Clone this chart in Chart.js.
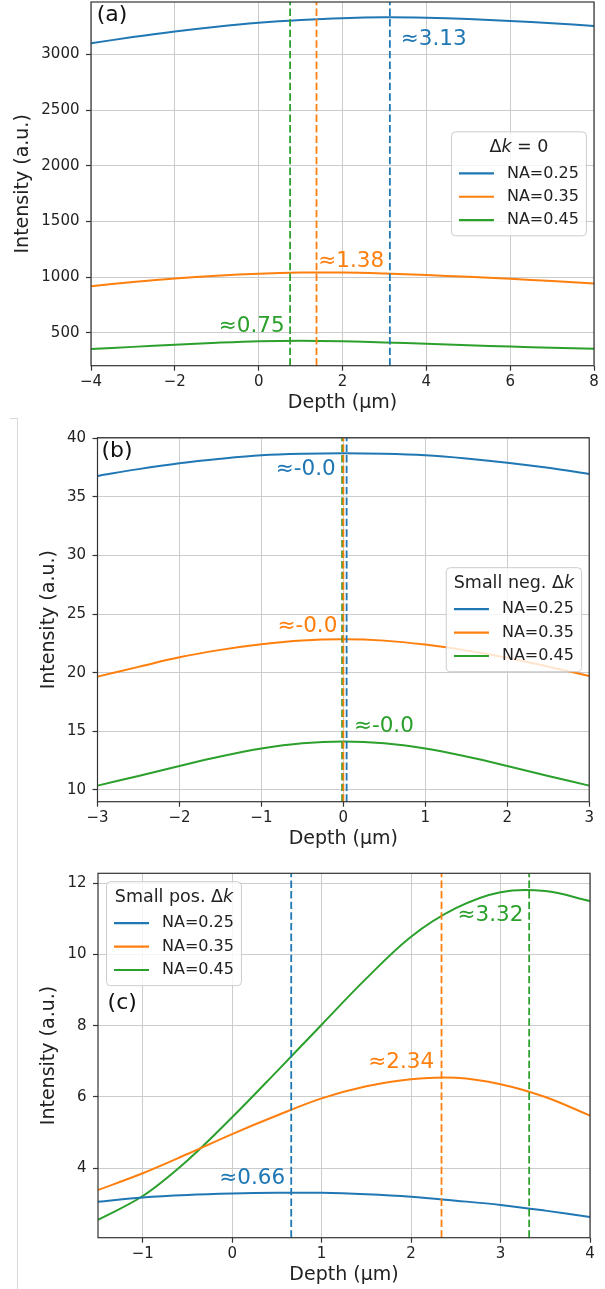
<!DOCTYPE html>
<html>
<head>
<meta charset="utf-8">
<script src="https://cdn.jsdelivr.net/npm/chart.js@4.4.1/dist/chart.umd.min.js"></script>
<style>
  html, body { margin: 0; padding: 0; background: #fff; }
  body { width: 605px; height: 1289px; position: relative; overflow: hidden; }
  canvas { position: absolute; left: 0; }
  #edge { position: absolute; left: 10px; top: 418px; width: 7px; height: 871px;
          border-top: 1px solid #d9d9d9; border-right: 1px solid #d9d9d9; }
</style>
</head>
<body>
<div id="edge"></div>
<canvas id="chart_a" width="605" height="420" style="top:0px"></canvas>
<canvas id="chart_b" width="605" height="440" style="top:420px"></canvas>
<canvas id="chart_c" width="605" height="429" style="top:860px"></canvas>
<script>
// series names + colours (matplotlib tab10)
const naLabels = ["NA=0.25", "NA=0.35", "NA=0.45"];
const colors = ["#1f77b4", "#ff7f0e", "#2ca02c"];

// (a) delta k = 0
const depthA = [-4, -3, -2, -1, 0, 1, 2, 3, 4, 5, 6, 7, 8];
const na025A = [3100, 3155, 3205, 3248, 3283, 3308, 3325, 3332, 3328, 3317, 3300, 3280, 3254];
const na035A = [919, 956, 988, 1013, 1031, 1041, 1042, 1033, 1019, 1003, 985, 965, 943];
const na045A = [354, 374, 393, 411, 425, 430, 425, 414, 402, 389, 377, 366, 357];
const peakA = [3.13, 1.38, 0.75];
const peakTextA = ["≈3.13", "≈1.38", "≈0.75"];
const xTicksA = [-4, -2, 0, 2, 4, 6, 8];
const xTickLabelsA = ["−4", "−2", "0", "2", "4", "6", "8"];
const yTicksA = [500, 1000, 1500, 2000, 2500, 3000];
const yTickLabelsA = ["500", "1000", "1500", "2000", "2500", "3000"];

// (b) small negative delta k
const depthB = [-3, -2.5, -2, -1.5, -1, -0.5, 0, 0.5, 1, 1.5, 2, 2.5, 3];
const na025B = [36.79, 37.37, 37.87, 38.25, 38.55, 38.68, 38.72, 38.68, 38.55, 38.28, 37.92, 37.48, 36.96];
const na035B = [19.67, 20.5, 21.32, 21.95, 22.43, 22.75, 22.85, 22.74, 22.4, 21.9, 21.28, 20.52, 19.73];
const na045B = [10.37, 11.2, 12.05, 12.85, 13.53, 13.98, 14.13, 13.98, 13.53, 12.85, 12.05, 11.2, 10.37];
const peakB = [0.04, 0.0, -0.015];
const peakTextB = ["≈-0.0", "≈-0.0", "≈-0.0"];
const xTicksB = [-3, -2, -1, 0, 1, 2, 3];
const xTickLabelsB = ["−3", "−2", "−1", "0", "1", "2", "3"];
const yTicksB = [10, 15, 20, 25, 30, 35, 40];
const yTickLabelsB = ["10", "15", "20", "25", "30", "35", "40"];

// (c) small positive delta k
const depthC = [-1.5, -1, -0.5, 0, 0.5, 1, 1.5, 2, 2.5, 3, 3.5, 4];
const na025C = [3.06, 3.18, 3.25, 3.29, 3.31, 3.31, 3.27, 3.2, 3.09, 2.97, 2.81, 2.63];
const na035C = [3.39, 3.86, 4.4, 4.96, 5.48, 5.96, 6.3, 6.5, 6.54, 6.36, 6.0, 5.48];
const na045C = [2.55, 3.22, 4.22, 5.43, 6.72, 8.03, 9.33, 10.5, 11.3, 11.75, 11.78, 11.5];
const peakC = [0.66, 2.34, 3.32];
const peakTextC = ["≈0.66", "≈2.34", "≈3.32"];
const xTicksC = [-1, 0, 1, 2, 3, 4];
const xTickLabelsC = ["−1", "0", "1", "2", "3", "4"];
const yTicksC = [4, 6, 8, 10, 12];
const yTickLabelsC = ["4", "6", "8", "10", "12"];

const FAMILY = '"DejaVu Sans", sans-serif';
const GRID = "#cccccc";
const INK = "#222";

// layout per panel: canvas top/height, plot box [l, t, r, b] in page px
const panels = [
  {
    id: "chart_a", box: [0, 420], plot: [91, 2, 594, 365.7], yTitleX: 23.2,
    x: depthA, series: [na025A, na035A, na045A], peaks: peakA, peakText: peakTextA,
    xRange: [-4, 8], yRange: [205, 3470],
    xTicks: xTicksA, xTickLabels: xTickLabelsA, yTicks: yTicksA, yTickLabels: yTickLabelsA,
    notes: [[3.39, 3135, "left"], [1.42, 1144, "left"], [0.62, 554, "right"]],
    tag: "(a)", tagAt: [5.7, 13],
    legendTitle: [["Δ", false], ["k", true], [" = 0", false]], legendSide: "right"
  },
  {
    id: "chart_b", box: [420, 440], plot: [97.5, 437.7, 589.2, 801.7], yTitleX: 49.5,
    x: depthB, series: [na025B, na035B, na045B], peaks: peakB, peakText: peakTextB,
    xRange: [-3, 3], yRange: [9.0, 40.05],
    xTicks: xTicksB, xTickLabels: xTickLabelsB, yTicks: yTicksB, yTickLabels: yTickLabelsB,
    notes: [[-0.093, 37.35, "right"], [-0.073, 23.93, "right"], [0.129, 15.39, "left"]],
    tag: "(b)", tagAt: [3.9, 14],
    legendTitle: [["Small neg. Δ", false], ["k", true]], legendSide: "right"
  },
  {
    id: "chart_c", box: [860, 429], plot: [98, 873.3, 590, 1237.7], yTitleX: 49.5,
    x: depthC, series: [na025C, na035C, na045C], peaks: peakC, peakText: peakTextC,
    xRange: [-1.5, 4], yRange: [2.05, 12.28],
    xTicks: xTicksC, xTickLabels: xTickLabelsC, yTicks: yTicksC, yTickLabels: yTickLabelsC,
    notes: [[0.593, 3.72, "right"], [2.257, 6.96, "right"], [3.256, 11.11, "right"]],
    tag: "(c)", tagAt: [9.6, 130],
    legendTitle: [["Small pos. Δ", false], ["k", true]], legendSide: "left"
  }
];

function roundBox(ctx, x, y, w, h, r) {
  ctx.beginPath();
  ctx.moveTo(x + r, y);
  ctx.arcTo(x + w, y, x + w, y + h, r);
  ctx.arcTo(x + w, y + h, x, y + h, r);
  ctx.arcTo(x, y + h, x, y, r);
  ctx.arcTo(x, y, x + w, y, r);
  ctx.closePath();
}

function drawLegend(chart, p) {
  const ctx = chart.ctx, area = chart.chartArea;
  const entryFont = "16px " + FAMILY, titleFont = "17.5px " + FAMILY;
  const padX = 7.5, handle = 35, gap = 13, h = 104;
  ctx.save();
  ctx.font = entryFont;
  const entryW = handle + gap + Math.max(...naLabels.map(t => ctx.measureText(t).width));
  let titleW = 0;
  p.legendTitle.forEach(([t, it]) => {
    ctx.font = (it ? "italic " : "") + titleFont;
    titleW += ctx.measureText(t).width;
  });
  const w = Math.max(entryW, titleW) + 2 * padX;
  const left = p.legendSide === "right" ? area.right - 7.6 - w : area.left + 8.5;
  const top = p.legendSide === "right" ? (area.top + area.bottom) / 2 - h / 2 : area.top + 8.4;

  roundBox(ctx, left, top, w, h, 4);
  ctx.fillStyle = "rgba(255,255,255,0.8)";
  ctx.fill();
  ctx.strokeStyle = "#cccccc";
  ctx.lineWidth = 1;
  ctx.stroke();

  ctx.textBaseline = "middle";
  ctx.textAlign = "left";
  ctx.fillStyle = INK;
  let tx = left + w / 2 - titleW / 2;
  p.legendTitle.forEach(([t, it]) => {
    ctx.font = (it ? "italic " : "") + titleFont;
    ctx.fillText(t, tx, top + 16);
    tx += ctx.measureText(t).width;
  });

  const ex = left + w / 2 - entryW / 2;
  for (let i = 0; i < 3; i++) {
    const ds = chart.data.datasets[i];
    const y = top + 41.5 + i * 23.4;
    ctx.strokeStyle = ds.borderColor;
    ctx.lineWidth = 2.2;
    ctx.beginPath();
    ctx.moveTo(ex, y);
    ctx.lineTo(ex + handle, y);
    ctx.stroke();
    ctx.font = entryFont;
    ctx.fillStyle = INK;
    ctx.fillText(ds.label, ex + handle + gap, y);
  }
  ctx.restore();
}

// spines, peak notes, panel tag, legend
const decorations = {
  id: "decorations",
  afterDatasetsDraw(chart) {
    const p = chart.options.plugins.decorations.panel;
    const ctx = chart.ctx, area = chart.chartArea;
    const xs = chart.scales.x, ys = chart.scales.y;
    ctx.save();
    ctx.strokeStyle = "#333";
    ctx.lineWidth = 1.2;
    ctx.strokeRect(area.left, area.top, area.right - area.left, area.bottom - area.top);

    ctx.font = "21.5px " + FAMILY;
    ctx.textBaseline = "middle";
    p.notes.forEach(([x, y, align], i) => {
      ctx.fillStyle = colors[i];
      ctx.textAlign = align;
      ctx.fillText(p.peakText[i], xs.getPixelForValue(x), ys.getPixelForValue(y));
    });

    ctx.font = "22px " + FAMILY;
    ctx.fillStyle = "#111";
    ctx.textAlign = "left";
    ctx.fillText(p.tag, area.left + p.tagAt[0], area.top + p.tagAt[1]);
    ctx.restore();

    drawLegend(chart, p);
  }
};

function zeroPad(s) {
  s.paddingLeft = 0;
  s.paddingRight = 0;
  s.paddingTop = 0;
  s.paddingBottom = 0;
}

function makeChart(p) {
  const datasets = p.series.map((vals, i) => ({
    label: naLabels[i],
    data: p.x.map((x, j) => ({ x: x, y: vals[j] })),
    borderColor: colors[i],
    borderWidth: 2,
    pointRadius: 0,
    tension: 0.35,
    order: 2
  }));
  p.peaks.forEach((v, i) => {
    datasets.push({
      label: "peak " + naLabels[i],
      data: [{ x: v, y: p.yRange[0] }, { x: v, y: p.yRange[1] }],
      borderColor: colors[i],
      borderWidth: 1.8,
      borderDash: [7.4, 3.2],
      pointRadius: 0,
      order: 1
    });
  });

  const tickFont = { family: FAMILY, size: 15 };
  const titleFont = { family: FAMILY, size: 19 };
  const grid = { color: GRID, lineWidth: 1, tickLength: 5, tickColor: "#333", tickWidth: 1.2 };

  return new Chart(document.getElementById(p.id), {
    type: "line",
    data: { datasets: datasets },
    plugins: [decorations],
    options: {
      responsive: false,
      animation: false,
      layout: {
        padding: {
          left: p.yTitleX - 11.4,
          top: p.plot[1] - p.box[0],
          right: 605 - p.plot[2],
          bottom: p.box[0] + p.box[1] - p.plot[3] - 49
        }
      },
      plugins: {
        legend: { display: false },
        tooltip: { enabled: false },
        decorations: { panel: p }
      },
      scales: {
        x: {
          type: "linear",
          min: p.xRange[0],
          max: p.xRange[1],
          afterBuildTicks: s => { s.ticks = p.xTicks.map(v => ({ value: v })); },
          afterFit: s => { s.height = 49; zeroPad(s); },
          ticks: {
            callback: v => p.xTickLabels[p.xTicks.indexOf(v)],
            font: tickFont, color: INK, padding: 2.6, maxRotation: 0, autoSkip: false
          },
          grid: grid,
          border: { display: false },
          title: { display: true, text: "Depth (µm)", font: titleFont, color: INK, padding: 0 }
        },
        y: {
          type: "linear",
          min: p.yRange[0],
          max: p.yRange[1],
          afterBuildTicks: s => { s.ticks = p.yTicks.map(v => ({ value: v })); },
          afterFit: s => { s.width = p.plot[0] - p.yTitleX + 11.4; zeroPad(s); },
          ticks: {
            callback: v => p.yTickLabels[p.yTicks.indexOf(v)],
            font: tickFont, color: INK, padding: 6.5, autoSkip: false
          },
          grid: grid,
          border: { display: false },
          title: { display: true, text: "Intensity (a.u.)", font: titleFont, color: INK, padding: 0 }
        }
      }
    }
  });
}

panels.forEach(p => makeChart(p));
</script>
</body>
</html>
